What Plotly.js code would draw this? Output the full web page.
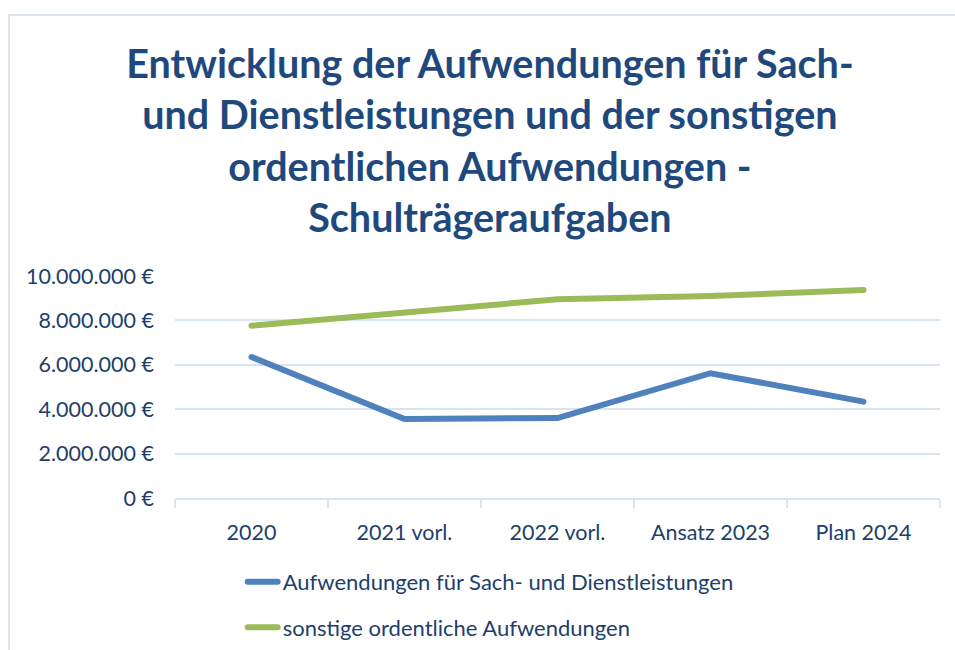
<!DOCTYPE html>
<html>
<head>
<meta charset="utf-8">
<script src="https://cdn.plot.ly/plotly-3.0.1.min.js"></script>
<style>
  html, body { margin: 0; padding: 0; background: #fff; }
  #chart { width: 955px; height: 650px; }
  #frame { position: absolute; left: 8px; top: 14px; width: 1200px; height: 1200px;
           border-left: 2px solid #dce6f2; border-top: 2px solid #dce6f2; pointer-events: none; }
  #chart path.js-line { stroke-linecap: round; }
</style>
</head>
<body>
<div id="chart"></div>
<div id="frame"></div>
<script>
const categories = ["2020", "2021 vorl.", "2022 vorl.", "Ansatz 2023", "Plan 2024"];
const sachDienst = [6350000, 3560000, 3600000, 5620000, 4340000];
const sonstige = [7760000, 8380000, 8950000, 9100000, 9370000];
const seriesNames = ["Aufwendungen für Sach- und Dienstleistungen", "sonstige ordentliche Aufwendungen"];
const yTickVals = [0, 2000000, 4000000, 6000000, 8000000, 10000000];
const yTickText = ["0 €", "2.000.000 €", "4.000.000 €", "6.000.000 €", "8.000.000 €", "10.000.000 €"];

const textColor = "#213f6b";
const gridColor = "#d9e4f1";

const traces = [
  { x: categories, y: sachDienst, name: seriesNames[0], type: "scatter", mode: "lines",
    line: { color: "#4f81bd", width: 6 }, legendgroup: "a" },
  { x: categories, y: sonstige, name: seriesNames[1], type: "scatter", mode: "lines",
    line: { color: "#9bbb59", width: 6 }, legendgroup: "b" }
];

const layout = {
  width: 955, height: 650,
  paper_bgcolor: "#ffffff", plot_bgcolor: "#ffffff",
  font: { family: "Lato, 'Open Sans', sans-serif", color: textColor, size: 21 },
  margin: { l: 175, r: 15, t: 276, b: 152 },
  title: {
    text: "Entwicklung der Aufwendungen für Sach-<br>und Dienstleistungen und der sonstigen<br>ordentlichen Aufwendungen -<br>Schulträgeraufgaben",
    font: { family: "Lato, 'Open Sans', sans-serif", size: 39.5, color: "#1f497d", weight: "bold" },
    x: 0.513, xanchor: "center", xref: "container",
    y: 1 - 78 / 650, yanchor: "top", yref: "container"
  },
  xaxis: {
    type: "category",
    tickson: "boundaries",
    ticks: "outside", ticklen: 8, tickcolor: gridColor, tickwidth: 2,
    showline: true, linecolor: gridColor, linewidth: 2,
    showgrid: false, zeroline: false,
    ticklabelstandoff: 14,
    tickfont: { size: 21.5, color: textColor },
    range: [-0.5, 4.5]
  },
  yaxis: {
    range: [0, 10000000],
    tickvals: yTickVals, ticktext: yTickText,
    showgrid: true, gridcolor: gridColor, gridwidth: 2,
    zeroline: false, showline: false, ticks: "",
    ticklabelstandoff: 20,
    tickfont: { size: 21.5, color: textColor }
  },
  showlegend: true,
  legend: {
    orientation: "v",
    x: 0.0885, xanchor: "left", xref: "paper",
    y: 0.137, yanchor: "top", yref: "container",
    font: { size: 22, color: textColor },
    tracegroupgap: 14,
    bgcolor: "rgba(0,0,0,0)"
  }
};

Plotly.newPlot("chart", traces, layout, { displayModeBar: false, staticPlot: true });
</script>
</body>
</html>
